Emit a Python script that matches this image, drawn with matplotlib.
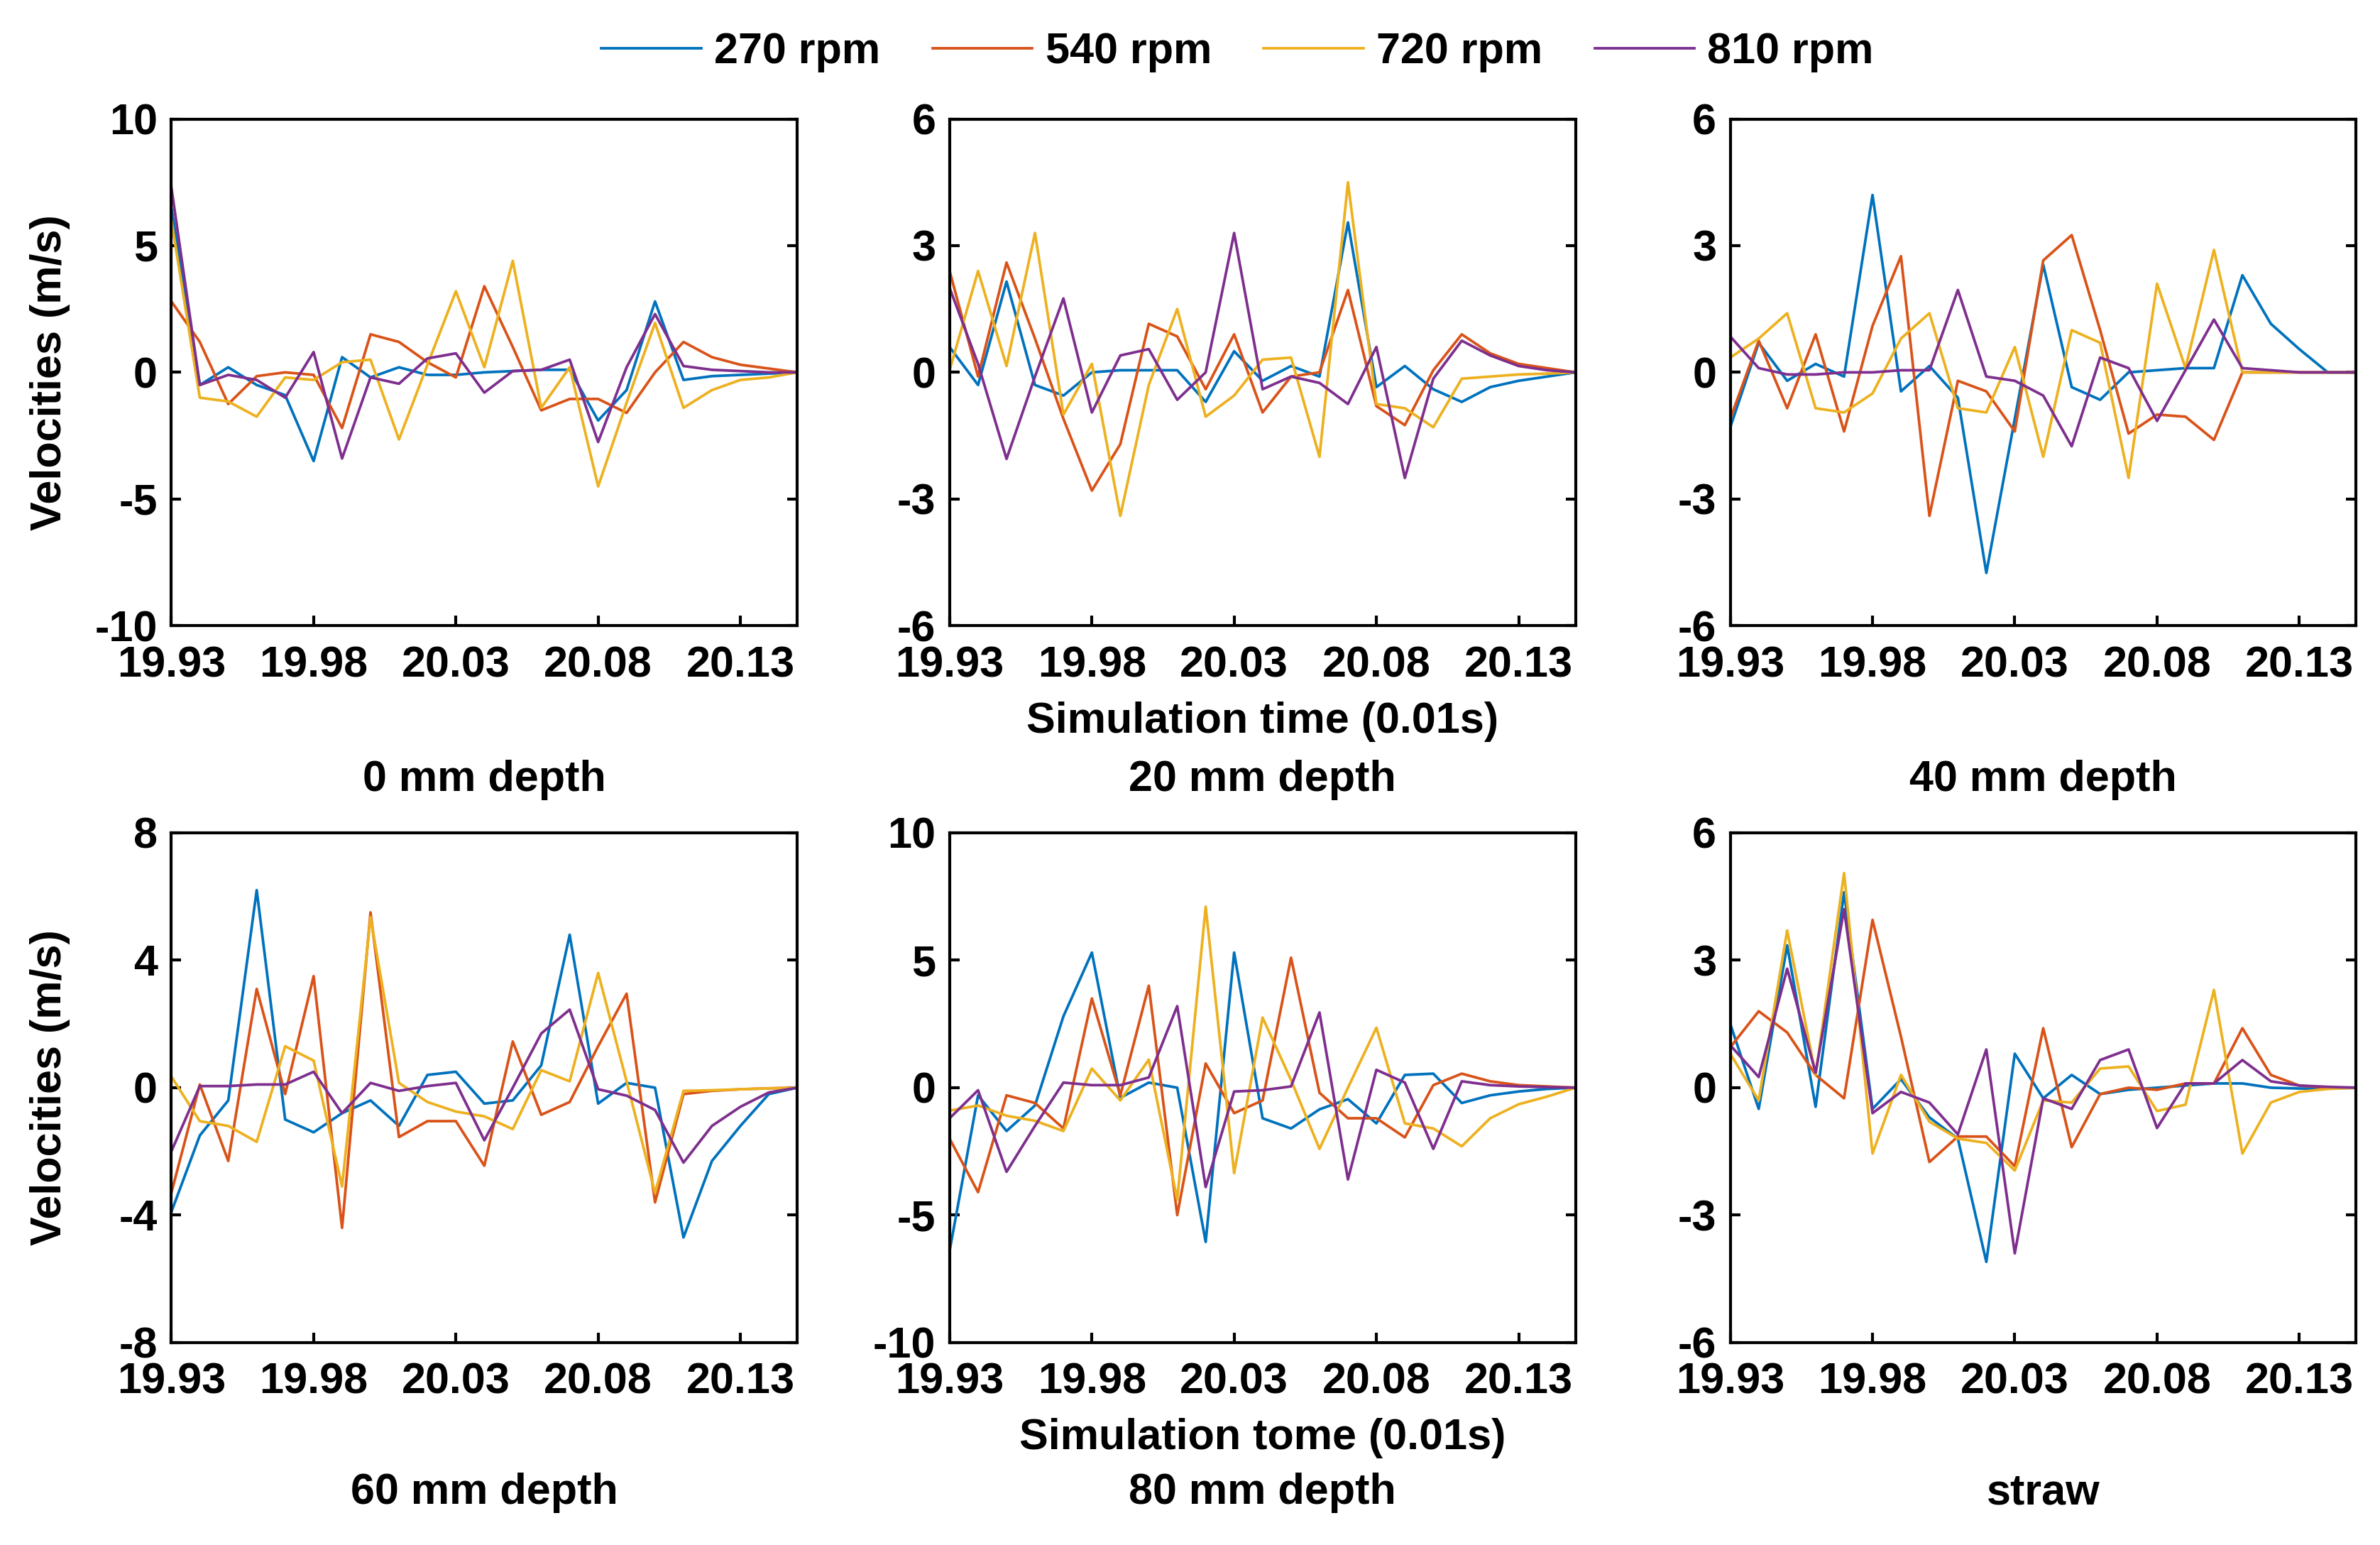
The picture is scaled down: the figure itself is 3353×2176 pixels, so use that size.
import matplotlib
matplotlib.use("Agg")
import matplotlib.pyplot as plt

plt.rcParams['font.family'] = ['Liberation Sans', 'DejaVu Sans']
plt.rcParams['font.weight'] = 'bold'
plt.rcParams['font.size'] = 22

# time axis (0.01 s units)
time = [19.93, 19.94, 19.95, 19.96, 19.97, 19.98, 19.99, 20.00, 20.01, 20.02, 20.03, 20.04,
        20.05, 20.06, 20.07, 20.08, 20.09, 20.10, 20.11, 20.12, 20.13, 20.14, 20.15]

speeds = ["270 rpm", "540 rpm", "720 rpm", "810 rpm"]
colors = ["#0072BD", "#D95319", "#EDB120", "#7E2F8E"]

# 0 mm depth
d0_270 = [6.5, -0.5, 0.2, -0.5, -0.9, -3.5, 0.6, -0.2, 0.2, -0.1, -0.1, 0.0, 0.05, 0.1, 0.1, -1.9, -0.7, 2.8, -0.3, -0.15, -0.1, -0.05, 0.0]
d0_540 = [2.8, 1.2, -1.25, -0.15, 0.0, -0.1, -2.2, 1.5, 1.2, 0.4, -0.2, 3.4, 1.0, -1.5, -1.05, -1.05, -1.6, 0.0, 1.2, 0.6, 0.3, 0.15, 0.0]
d0_720 = [6.0, -1.0, -1.15, -1.75, -0.2, -0.3, 0.4, 0.5, -2.65, 0.3, 3.2, 0.2, 4.4, -1.4, 0.2, -4.5, -1.2, 1.95, -1.4, -0.7, -0.3, -0.2, 0.0]
d0_810 = [7.3, -0.5, -0.1, -0.3, -1.0, 0.8, -3.4, -0.2, -0.45, 0.55, 0.75, -0.8, 0.05, 0.1, 0.5, -2.75, 0.2, 2.3, 0.25, 0.1, 0.05, 0.0, 0.0]

# 20 mm depth
d20_270 = [0.6, -0.3, 2.15, -0.3, -0.55, 0.0, 0.05, 0.05, 0.05, -0.7, 0.5, -0.2, 0.15, -0.1, 3.55, -0.35, 0.15, -0.4, -0.7, -0.35, -0.2, -0.1, 0.0]
d20_540 = [2.4, -0.1, 2.6, 0.8, -1.1, -2.8, -1.7, 1.15, 0.85, -0.4, 0.9, -0.95, -0.1, 0.0, 1.95, -0.8, -1.25, 0.05, 0.9, 0.45, 0.2, 0.1, 0.0]
d20_720 = [0.05, 2.4, 0.15, 3.3, -1.0, 0.2, -3.4, -0.3, 1.5, -1.05, -0.55, 0.3, 0.35, -2.0, 4.5, -0.75, -0.85, -1.3, -0.15, -0.1, -0.05, -0.03, 0.0]
d20_810 = [2.0, 0.2, -2.05, -0.1, 1.75, -0.95, 0.4, 0.55, -0.65, 0.0, 3.3, -0.4, -0.1, -0.25, -0.75, 0.6, -2.5, -0.15, 0.75, 0.4, 0.15, 0.05, 0.0]

# 40 mm depth
d40_270 = [-1.3, 0.7, -0.2, 0.2, -0.1, 4.2, -0.45, 0.15, -0.6, -4.75, -1.1, 2.55, -0.35, -0.65, 0.0, 0.05, 0.1, 0.1, 2.3, 1.15, 0.55, 0.0, 0.0]
d40_540 = [-1.1, 0.75, -0.85, 0.9, -1.4, 1.1, 2.75, -3.4, -0.2, -0.45, -1.4, 2.65, 3.25, 1.0, -1.45, -1.0, -1.05, -1.6, 0.0, 0.0, 0.0, 0.0, 0.0]
d40_720 = [0.35, 0.8, 1.4, -0.85, -0.95, -0.5, 0.8, 1.4, -0.85, -0.95, 0.6, -2.0, 1.0, 0.7, -2.5, 2.1, 0.1, 2.9, 0.0, 0.0, 0.0, 0.0, 0.0]
d40_810 = [0.85, 0.1, -0.05, -0.05, 0.0, 0.0, 0.05, 0.05, 1.95, -0.1, -0.2, -0.55, -1.75, 0.35, 0.1, -1.15, 0.05, 1.25, 0.1, 0.05, 0.0, 0.0, 0.0]

# 60 mm depth
d60_270 = [-3.9, -1.5, -0.4, 6.2, -1.0, -1.4, -0.8, -0.4, -1.2, 0.4, 0.5, -0.5, -0.4, 0.7, 4.8, -0.5, 0.15, 0.0, -4.7, -2.3, -1.2, -0.2, 0.0]
d60_540 = [-3.3, 0.1, -2.3, 3.1, -0.2, 3.5, -4.4, 5.5, -1.55, -1.05, -1.05, -2.45, 1.45, -0.85, -0.45, 1.3, 2.95, -3.6, -0.2, -0.1, -0.05, -0.02, 0.0]
d60_720 = [0.35, -1.05, -1.2, -1.7, 1.3, 0.85, -3.1, 5.35, 0.15, -0.45, -0.75, -0.9, -1.3, 0.55, 0.2, 3.6, 0.2, -3.3, -0.1, -0.08, -0.05, -0.02, 0.0]
d60_810 = [-2.0, 0.05, 0.05, 0.1, 0.1, 0.5, -0.8, 0.15, -0.1, 0.05, 0.15, -1.65, 0.0, 1.7, 2.45, -0.05, -0.25, -0.7, -2.35, -1.2, -0.6, -0.15, 0.0]

# 80 mm depth
d80_270 = [-6.4, -0.3, -1.7, -0.7, 2.8, 5.3, -0.4, 0.2, 0.0, -6.05, 5.3, -1.2, -1.6, -0.85, -0.45, -1.4, 0.5, 0.55, -0.6, -0.3, -0.15, -0.05, 0.0]
d80_540 = [-2.0, -4.1, -0.3, -0.6, -1.6, 3.5, -0.3, 4.0, -5.0, 0.95, -1.0, -0.5, 5.1, -0.2, -1.2, -1.2, -1.95, 0.1, 0.55, 0.25, 0.1, 0.05, 0.0]
d80_720 = [-0.9, -0.7, -1.1, -1.3, -1.7, 0.75, -0.5, 1.1, -4.4, 7.1, -3.35, 2.75, 0.3, -2.4, 0.0, 2.35, -1.4, -1.6, -2.3, -1.2, -0.65, -0.35, 0.0]
d80_810 = [-1.2, -0.1, -3.3, -1.5, 0.2, 0.1, 0.1, 0.4, 3.2, -3.9, -0.15, -0.1, 0.05, 2.95, -3.6, 0.7, 0.2, -2.4, 0.25, 0.1, 0.05, 0.02, 0.0]

# straw
straw_270 = [1.5, -0.5, 3.35, -0.45, 4.6, -0.5, 0.2, -0.7, -1.2, -4.1, 0.8, -0.25, 0.3, -0.15, -0.05, 0.0, 0.05, 0.1, 0.1, 0.0, -0.02, -0.02, 0.0]
straw_540 = [0.95, 1.8, 1.3, 0.3, -0.25, 3.95, 1.2, -1.75, -1.15, -1.15, -1.85, 1.4, -1.4, -0.15, 0.0, -0.05, 0.1, 0.1, 1.4, 0.3, 0.05, 0.0, 0.0]
straw_720 = [0.8, -0.3, 3.7, 0.3, 5.05, -1.55, 0.3, -0.8, -1.2, -1.3, -1.95, -0.3, -0.35, 0.45, 0.5, -0.55, -0.4, 2.3, -1.55, -0.35, -0.1, -0.03, 0.0]
straw_810 = [1.0, 0.25, 2.8, 0.35, 4.2, -0.6, -0.1, -0.35, -1.1, 0.9, -3.9, -0.25, -0.5, 0.65, 0.9, -0.95, 0.1, 0.1, 0.65, 0.15, 0.05, 0.02, 0.0]

titles = ["0 mm depth", "20 mm depth", "40 mm depth", "60 mm depth", "80 mm depth", "straw"]
ylims = [10, 6, 6, 8, 10, 6]
panels = [
    [d0_270, d0_540, d0_720, d0_810],
    [d20_270, d20_540, d20_720, d20_810],
    [d40_270, d40_540, d40_720, d40_810],
    [d60_270, d60_540, d60_720, d60_810],
    [d80_270, d80_540, d80_720, d80_810],
    [straw_270, straw_540, straw_720, straw_810],
]
xlabels = {1: "Simulation time (0.01s)", 4: "Simulation tome (0.01s)"}

fig = plt.figure(figsize=(16.765, 10.88), dpi=200)

lefts = [0.072, 0.399, 0.727]
width = 0.263
rows = [(0.595, 0.328), (0.131, 0.330)]
title_y = [-0.305, -0.295]
xlabel_y = [-0.19, -0.188]

handles = []
for k in range(6):
    r, c = divmod(k, 3)
    bottom, height = rows[r]
    ax = fig.add_axes([lefts[c], bottom, width, height])
    for series, col, lab in zip(panels[k], colors, speeds):
        h, = ax.plot(time, series, color=col, lw=1.35, label=lab)
        if k == 0:
            handles.append(h)
    lim = ylims[k]
    ax.set_xlim(19.93, 20.15)
    ax.set_ylim(-lim, lim)
    ax.set_xticks([19.93, 19.98, 20.03, 20.08, 20.13])
    ax.set_xticklabels(["19.93", "19.98", "20.03", "20.08", "20.13"])
    ax.set_yticks([-lim, -lim / 2, 0, lim / 2, lim])
    ax.set_yticklabels([f"{int(v)}" for v in [-lim, -lim / 2, 0, lim / 2, lim]])
    ax.tick_params(direction='in', length=5, width=1.5, right=True, labelsize=22)
    ax.tick_params(axis='x', pad=10)
    ax.tick_params(axis='y', pad=7)
    for s in ax.spines.values():
        s.set_linewidth(1.5)
    if c == 0:
        ax.set_ylabel("Velocities (m/s)", fontsize=22, fontweight='bold')
        ax.yaxis.set_label_coords(-0.162, 0.5)
    if k in xlabels:
        ax.text(0.5, xlabel_y[r], xlabels[k], transform=ax.transAxes, ha='center', va='center',
                fontsize=22, fontweight='bold')
    ax.text(0.5, title_y[r], titles[k], transform=ax.transAxes, ha='center', va='center',
            fontsize=22, fontweight='bold')

fig.legend(handles=handles, loc='center', bbox_to_anchor=(0.52, 0.966), ncol=4, frameon=False,
           handlelength=2.3, handletextpad=0.3, columnspacing=1.2, fontsize=22)

fig.savefig("out.png", dpi=200)
